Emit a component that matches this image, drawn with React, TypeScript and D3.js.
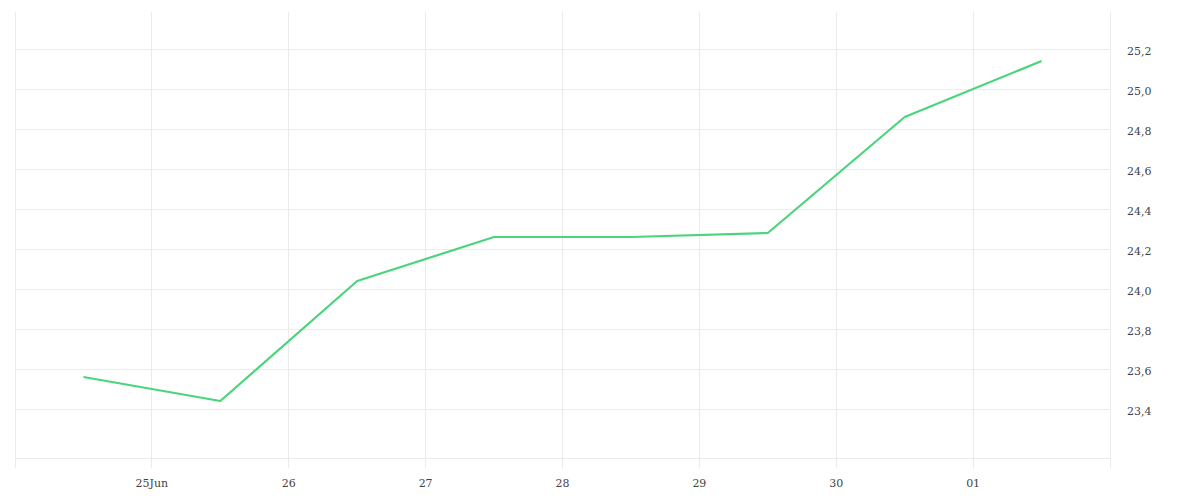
import React, { useEffect, useRef } from "react";
import * as d3 from "d3";

const dates = ["2024-06-24T12:00", "2024-06-25T12:00", "2024-06-26T12:00", "2024-06-27T12:00", "2024-06-28T12:00", "2024-06-29T12:00", "2024-06-30T12:00", "2024-07-01T12:00"];
const values = [23.56, 23.44, 24.04, 24.26, 24.26, 24.28, 24.86, 25.14];
const yTicks = [23.4, 23.6, 23.8, 24.0, 24.2, 24.4, 24.6, 24.8, 25.0, 25.2];
const xTickDates = ["2024-06-25", "2024-06-26", "2024-06-27", "2024-06-28", "2024-06-29", "2024-06-30", "2024-07-01"];
const xTickLabels = ["25Jun", "26", "27", "28", "29", "30", "01"];

const W = 1200, H = 500;
const left = 15, right = 1110, top = 12, bottom = 458;

export default function App() {
  const ref = useRef<SVGSVGElement>(null);
  useEffect(() => {
    const svg = d3.select(ref.current);
    svg.selectAll("*").remove();
    const x = d3.scaleTime().domain([new Date("2024-06-24T00:00"), new Date("2024-07-02T00:00")]).range([left, right]);
    const y = d3.scaleLinear().domain([23.155, 25.385]).range([bottom, top]);
    const grid = "#ebebeb";
    const g = svg.append("g");
    // horizontal gridlines
    yTicks.forEach(t => {
      g.append("line").attr("x1", left).attr("x2", right).attr("y1", y(t)).attr("y2", y(t)).attr("stroke", grid).attr("stroke-width", 1).attr("shape-rendering", "crispEdges");
    });
    g.append("line").attr("x1", left).attr("x2", right).attr("y1", bottom).attr("y2", bottom).attr("stroke", grid).attr("shape-rendering", "crispEdges");
    // vertical lines
    const vx = [left, ...xTickDates.map(d => x(new Date(d + "T00:00"))), right];
    vx.forEach(v => {
      g.append("line").attr("x1", v).attr("x2", v).attr("y1", top).attr("y2", bottom + 10).attr("stroke", grid).attr("shape-rendering", "crispEdges");
    });
    // x labels
    xTickDates.forEach((d, i) => {
      g.append("text").attr("x", x(new Date(d + "T00:00"))).attr("y", 487).attr("text-anchor", "middle")
        .attr("font-family", "'DejaVu Serif', serif").attr("font-size", 11).attr("fill", "#444").text(xTickLabels[i]);
    });
    // y labels
    yTicks.forEach(t => {
      g.append("text").attr("x", 1127).attr("y", y(t) + 6).attr("text-anchor", "start")
        .attr("font-family", "'DejaVu Serif', serif").attr("font-size", 11).attr("fill", "#444")
        .text(t.toFixed(1).replace(".", ","));
    });
    const line = d3.line<number>().x((_, i) => x(new Date(dates[i]))).y(v => y(v));
    g.append("path").datum(values).attr("d", line).attr("fill", "none").attr("stroke", "#4cd47c").attr("stroke-width", 2.2).attr("stroke-linejoin", "round");
  }, []);
  return <svg ref={ref} width={W} height={H} style={{ position: "absolute", left: 0, top: 0, background: "#fff" }} />;
}
